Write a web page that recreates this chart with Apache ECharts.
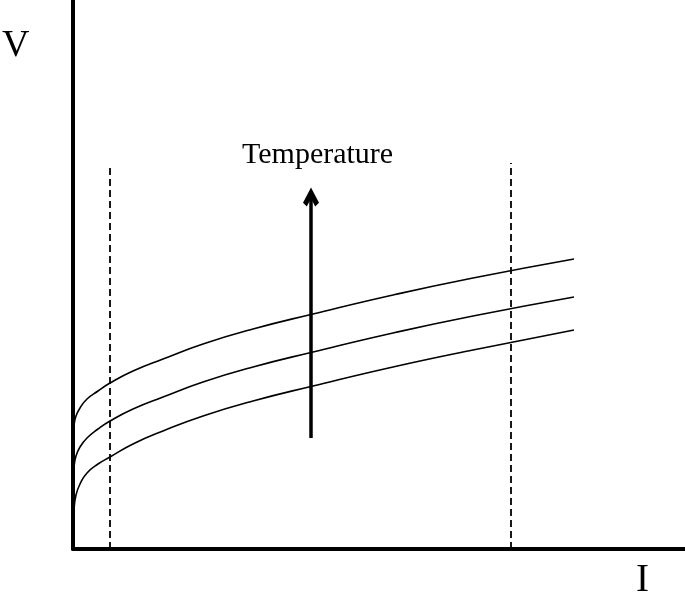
<!DOCTYPE html>
<html>
<head>
<meta charset="utf-8">
<script src="https://cdn.jsdelivr.net/npm/echarts@6/dist/echarts.min.js"></script>
<style>
  html, body { margin: 0; padding: 0; background: #fff; }
  #chart { width: 685px; height: 595px; }
</style>
</head>
<body>
<div id="chart"></div>
<script>
  // current (I) positions shared by the three curves
  var currents = [0, 1, 3, 7, 14, 25, 37, 60, 90, 130, 180, 240, 320, 400, 501]
  // voltage for each temperature, low -> high
  var vLow = [29, 40, 54, 65, 76, 85, 92, 105, 118, 133, 148, 163, 182, 199, 219]
  var vMid = [72, 82, 93, 102, 111, 120, 128, 140, 152, 167, 182, 197, 216, 233, 252]
  var vHigh = [117, 124, 133, 141, 150, 158, 166, 178, 190, 205, 220, 235, 254, 271, 290]
  // dashed limits: [current, top voltage]
  var limitLeft = [37, 381]
  var limitRight = [438, 386]
  // temperature arrow: current, from voltage, to voltage
  var arrowI = 238
  var arrowFrom = 111
  var arrowTo = 352

  var serif = 'Liberation Serif, Times New Roman, serif'

  function pairs(xs, ys) {
    var out = []
    for (var i = 0; i < xs.length; i++) {
      out.push([xs[i], ys[i]])
    }
    return out
  }

  function curve(ys) {
    return {
      type: 'line',
      data: pairs(currents, ys),
      showSymbol: false,
      smooth: 0.5,
      lineStyle: { color: '#000', width: 1.6 },
      z: 3
    }
  }

  function dashed(limit) {
    return {
      type: 'line',
      data: [[limit[0], 0], [limit[0], limit[1]]],
      showSymbol: false,
      lineStyle: { color: '#000', width: 1.8, type: [7, 4] },
      z: 2
    }
  }

  var axisStyle = {
    show: true,
    lineStyle: { color: '#000', width: 4 }
  }

  var chart = echarts.init(document.getElementById('chart'))
  chart.setOption({
    animation: false,
    grid: { left: 73, right: 0, top: 0, bottom: 46 },
    xAxis: {
      type: 'value',
      min: 0,
      max: 612,
      axisLine: axisStyle,
      axisTick: { show: false },
      axisLabel: { show: false },
      splitLine: { show: false }
    },
    yAxis: {
      type: 'value',
      min: 0,
      max: 549,
      axisLine: axisStyle,
      axisTick: { show: false },
      axisLabel: { show: false },
      splitLine: { show: false }
    },
    graphic: [
      {
        type: 'text', left: 2, top: 27,
        style: { text: 'V', font: '38px ' + serif, fill: '#000' }
      },
      {
        type: 'text', left: 636, top: 561,
        style: { text: 'I', font: '39px ' + serif, fill: '#000' }
      },
      {
        type: 'text', left: 242, top: 140,
        style: { text: 'Temperature', font: '30px ' + serif, fill: '#000' }
      }
    ],
    series: [
      curve(vLow),
      curve(vMid),
      curve(vHigh),
      dashed(limitLeft),
      dashed(limitRight),
      {
        type: 'line',
        data: [],
        markLine: {
          silent: true,
          symbol: ['none', 'path://M0,8 L5,0 L10,8 L7.6,10 L5,5.6 L2.4,10 Z'],
          symbolSize: [16, 19],
          symbolOffset: [0, 0],
          label: { show: false },
          lineStyle: { color: '#000', width: 3.5, type: 'solid' },
          data: [[{ coord: [arrowI, arrowFrom] }, { coord: [arrowI, arrowTo] }]]
        }
      }
    ]
  })
</script>
</body>
</html>
